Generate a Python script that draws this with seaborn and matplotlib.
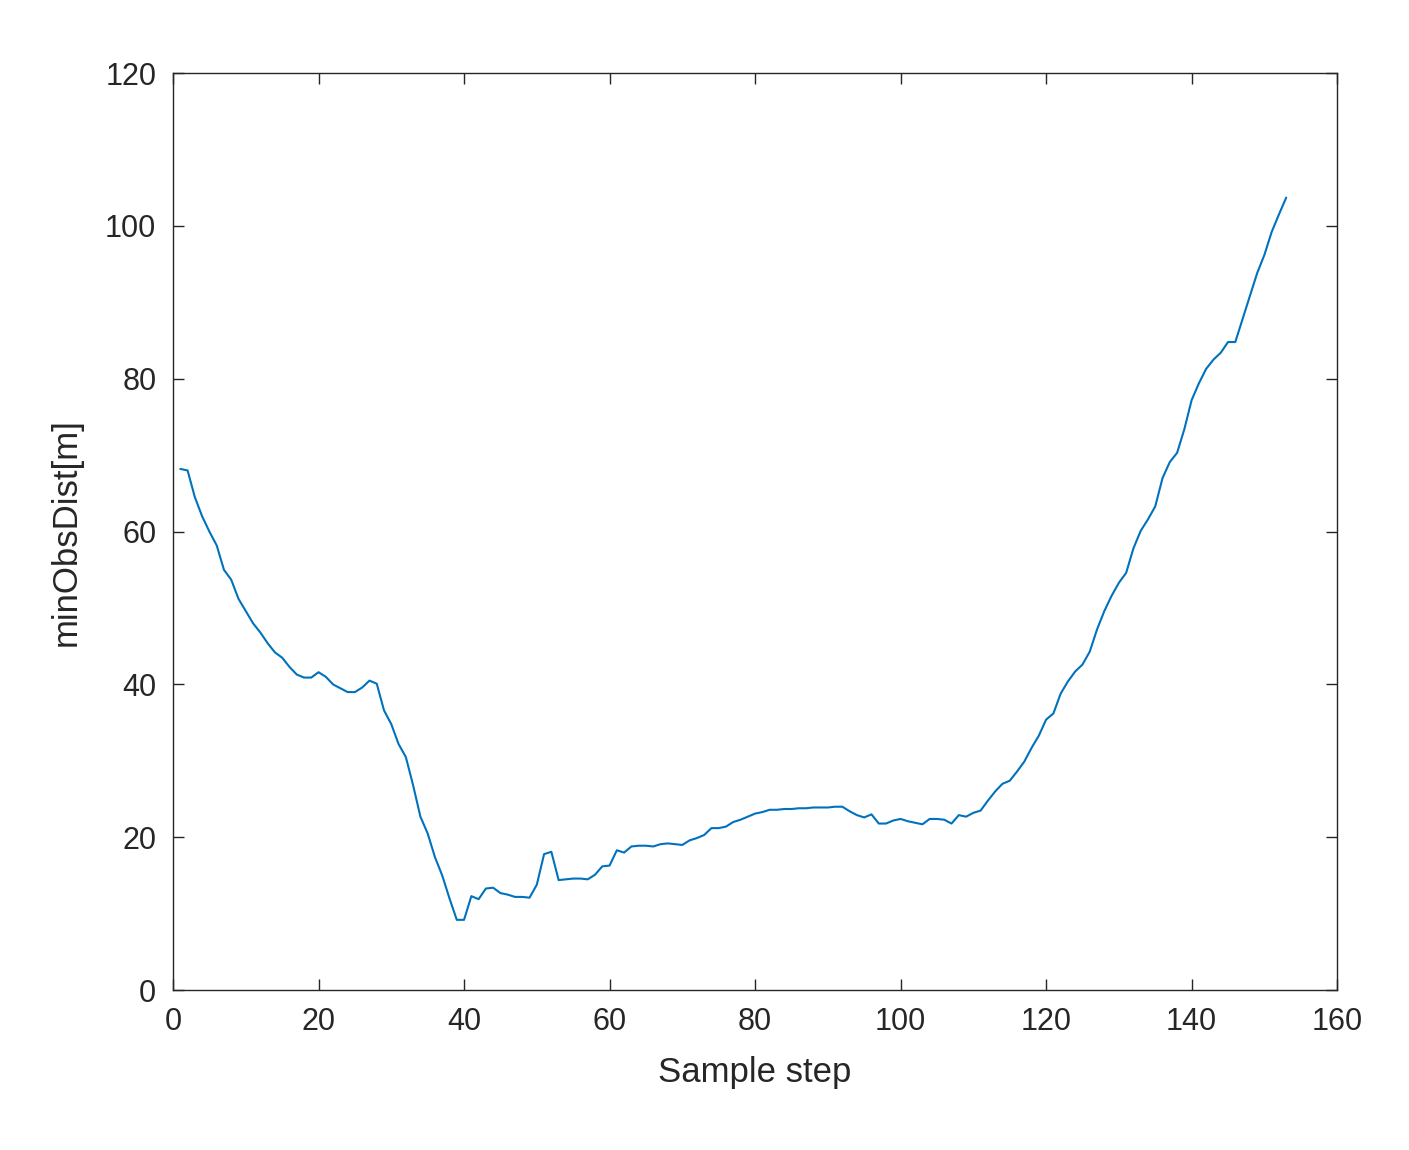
import matplotlib
matplotlib.use("Agg")
import matplotlib.pyplot as plt
import seaborn as sns
import numpy as np

steps = list(range(1, 154))
min_obs_dist = [
68.2, 68.0, 64.5, 62, 60, 58.2, 55, 53.7, 51.2, 49.6,
48, 46.8, 45.4, 44.2, 43.5, 42.3, 41.3, 40.9, 40.9, 41.6,
41, 40, 39.5, 39, 39, 39.6, 40.5, 40.1, 36.6, 34.8,
32.2, 30.5, 26.8, 22.7, 20.5, 17.4, 15, 12, 9.2, 9.2,
12.3, 11.9, 13.3, 13.4, 12.7, 12.5, 12.2, 12.2, 12.1, 13.8,
17.8, 18.1, 14.4, 14.5, 14.6, 14.6, 14.5, 15.1, 16.2, 16.3,
18.3, 18, 18.8, 18.9, 18.9, 18.8, 19.1, 19.2, 19.1, 19,
19.6, 19.9, 20.3, 21.2, 21.2, 21.4, 22, 22.3, 22.7, 23.1,
23.3, 23.6, 23.6, 23.7, 23.7, 23.8, 23.8, 23.9, 23.9, 23.9,
24, 24, 23.4, 22.9, 22.6, 23, 21.8, 21.8, 22.2, 22.4,
22.1, 21.9, 21.7, 22.4, 22.4, 22.3, 21.8, 22.9, 22.7, 23.2,
23.5, 24.8, 26, 27, 27.4, 28.6, 29.9, 31.7, 33.3, 35.4,
36.2, 38.8, 40.4, 41.7, 42.6, 44.3, 47.2, 49.6, 51.6, 53.3,
54.6, 57.8, 60.1, 61.6, 63.3, 67, 69.1, 70.3, 73.4, 77.2,
79.4, 81.3, 82.5, 83.4, 84.8, 84.8, 87.8, 90.8, 93.8, 96.2,
99.2, 101.5, 103.7]

sns.set_theme(style="ticks")
plt.rcParams['font.family'] = ['Liberation Sans', 'DejaVu Sans']
fig = plt.figure(figsize=(14.09, 11.5), dpi=100)
ax = fig.add_axes([0.1228, 0.139, 0.8262, 0.7975])
sns.lineplot(x=steps, y=min_obs_dist, ax=ax, color="#0072BD", linewidth=1.5)
ax.set_xlim(0, 160)
ax.set_ylim(0, 120)
ax.set_xticks(range(0, 161, 20))
ax.set_yticks(range(0, 121, 20))
ax.tick_params(direction="in", length=8, width=1, labelsize=22, colors="#262626",
               top=True, right=True, pad=12)
for s in ax.spines.values():
    s.set_color("#262626"); s.set_linewidth(1)
ax.set_xlabel("Sample step", fontsize=25, color="#262626", labelpad=14)
ax.set_ylabel("minObsDist[m]", fontsize=25, color="#262626", labelpad=16)
fig.savefig("out.png", dpi=100, facecolor="white")
